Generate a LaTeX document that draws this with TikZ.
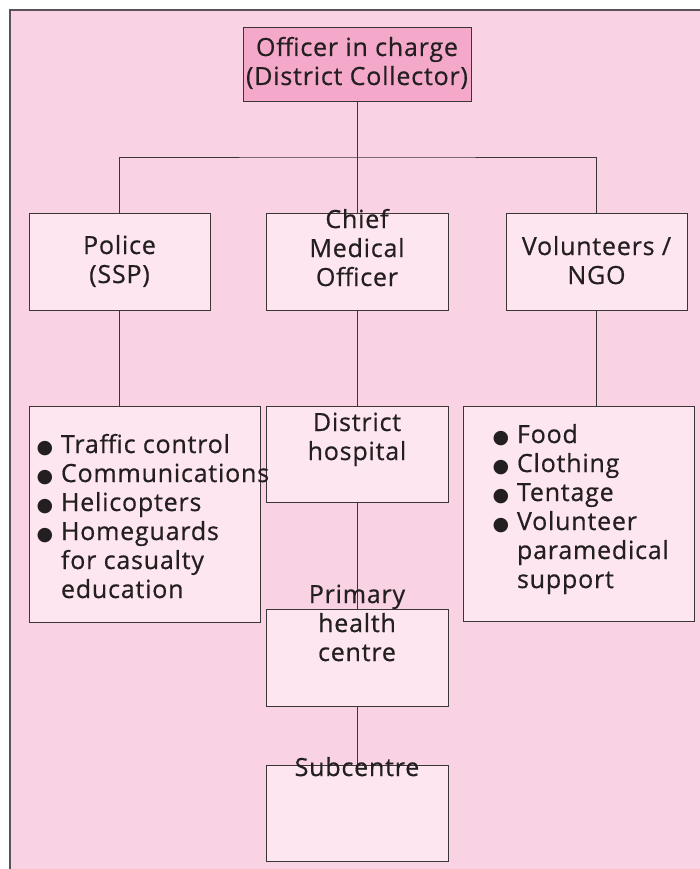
\documentclass[tikz,border=0pt]{standalone}
\usepackage{fontspec}
\setmainfont{Open Sans}[LetterSpace=3.2, FakeBold=0.6]
\newfontfamily\bulletfont{DejaVu Sans}

\definecolor{pagepink}{HTML}{F9D3E4}
\definecolor{boxfill}{HTML}{FDE6EF}
\definecolor{topfill}{HTML}{F4A9CA}
\definecolor{boxline}{HTML}{3B3536}
\definecolor{framecol}{HTML}{5B5158}
\definecolor{ink}{HTML}{231F20}

% strut fixing the height of the first line of every text block
\newcommand{\firstline}{\rule{0pt}{20pt}}
% bullet and hanging indent for the lists
\newcommand{\bul}{\makebox[23pt][l]{\makebox[14pt]{\bulletfont\fontsize{19}{19}\selectfont ●}}}
\newcommand{\hang}{\hspace*{23pt}}

\tikzset{
  box/.style={draw=boxline, fill=boxfill, line width=0.9pt, inner sep=0pt, outer sep=0pt},
  topbox/.style={box, fill=topfill},
  lbl/.style={inner sep=0pt, outer sep=0pt, anchor=north, align=center, text=ink,
              font=\fontsize{25}{29}\selectfont},
  listtext/.style={lbl, anchor=north west, align=left},
  link/.style={draw=boxline, line width=0.9pt},
}

\begin{document}
\begin{tikzpicture}[x=1pt, y=-1pt]
  \useasboundingbox (0,0) rectangle (699,869);
  \fill[white] (0,0) rectangle (699,869);

  % panel with its frame on the top and left
  \fill[pagepink] (10,10) rectangle (720,890);
  \draw[framecol, line width=2pt] (720,10) -- (10,10) -- (10,890);

  % boxes
  \node[topbox, minimum width=228, minimum height=74] (chief) at (357,64) {};
  \node[box, minimum width=181, minimum height=97] (police) at (119.5,261.5) {};
  \node[box, minimum width=182, minimum height=97] (cmo) at (357,261.5) {};
  \node[box, minimum width=181, minimum height=97] (vol) at (596.5,261.5) {};
  \node[box, minimum width=231, minimum height=216] (policelist) at (144.5,514) {};
  \node[box, minimum width=182, minimum height=96] (hosp) at (357,454) {};
  \node[box, minimum width=231, minimum height=215] (vollist) at (578.5,513.5) {};
  \node[box, minimum width=182, minimum height=97] (phc) at (357,657.5) {};
  \node[box, minimum width=182, minimum height=96] (sub) at (357,813) {};

  % connectors
  \coordinate (bus) at (357,157);
  \draw[link] (chief.south) -- (cmo.north);
  \draw[link] (police.north) |- (bus) -| (vol.north);
  \draw[link] (police.south) -- (police.south |- policelist.north);
  \draw[link] (vol.south) -- (vol.south |- vollist.north);
  \draw[link] (cmo.south) -- (hosp.north);
  \draw[link] (hosp.south) -- (phc.north);
  \draw[link] (phc.south) -- (sub.north);

  % texts
  \node[lbl] (chiefT) at (357,36) {\firstline Officer in charge\\(District Collector)};
  \node[lbl] (policeT) at (119.5,234) {\firstline Police\\(SSP)};
  \node[lbl] (cmoT) at (357,208) {\firstline Chief\\Medical\\Officer};
  \node[lbl] (volT) at (596.5,235) {\firstline Volunteers /\\NGO};
  \node[listtext] (policelistT) at (38,433)
    {\firstline\bul Traffic control\\\bul Communications\\\bul Helicopters\\\bul Homeguards\\\hang for casualty\\\hang education};
  \node[lbl] (hospT) at (357,411) {\firstline District\\hospital};
  \node[listtext] (vollistT) at (494,423)
    {\firstline\bul Food\\\bul Clothing\\\bul Tentage\\\bul Volunteer\\\hang paramedical\\\hang support};
  \node[lbl] (phcT) at (357,583) {\firstline Primary\\health\\centre};
  \node[lbl] (subT) at (357,756) {\firstline Subcentre};
\end{tikzpicture}
\end{document}
